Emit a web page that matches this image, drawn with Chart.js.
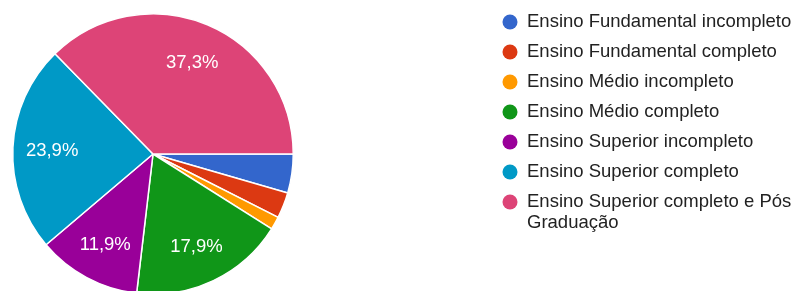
<!DOCTYPE html>
<html>
<head>
<meta charset="utf-8">
<script src="https://cdn.jsdelivr.net/npm/chart.js@4"></script>
<style>
  html, body { margin: 0; padding: 0; background: #fff; overflow: hidden; }
  #wrap { width: 802px; height: 291px; overflow: hidden; }
</style>
</head>
<body>
<div id="wrap"><canvas id="pie-chart" width="802" height="310"></canvas></div>
<script>
// respostas (67 no total)
var categorias = [
  'Ensino Fundamental incompleto',
  'Ensino Fundamental completo',
  'Ensino Médio incompleto',
  'Ensino Médio completo',
  'Ensino Superior incompleto',
  'Ensino Superior completo',
  'Ensino Superior completo e Pós Graduação'
];
var respostas = [3, 2, 1, 12, 8, 16, 25];
var cores = ['#3366cc', '#dc3912', '#ff9900', '#109618', '#990099', '#0099c6', '#dd4477'];

function pct(v, total) {
  return (v / total * 100).toFixed(1).replace('.', ',') + '%';
}

// percentagens dentro das fatias
var sliceLabels = {
  id: 'sliceLabels',
  afterDatasetsDraw: function (chart) {
    var ctx = chart.ctx;
    var data = chart.data.datasets[0].data;
    var total = data.reduce(function (a, b) { return a + b; }, 0);
    ctx.save();
    ctx.font = '18.5px "Liberation Sans", Arial, sans-serif';
    ctx.fillStyle = '#fff';
    ctx.textAlign = 'center';
    ctx.textBaseline = 'middle';
    chart.getDatasetMeta(0).data.forEach(function (arc, i) {
      if (data[i] / total < 0.05) return;
      var a = (arc.startAngle + arc.endAngle) / 2;
      var r = arc.outerRadius * 0.72;
      ctx.fillText(pct(data[i], total), arc.x + Math.cos(a) * r, arc.y + 2 + Math.sin(a) * r);
    });
    ctx.restore();
  }
};

// legenda à direita, com quebra de linha
var sideLegend = {
  id: 'sideLegend',
  afterDraw: function (chart) {
    var ctx = chart.ctx;
    var x = 510, y = 22, step = 30, maxW = 272;
    ctx.save();
    ctx.font = '18.5px "Liberation Sans", Arial, sans-serif';
    ctx.textBaseline = 'middle';
    chart.data.labels.forEach(function (label, i) {
      ctx.fillStyle = chart.data.datasets[0].backgroundColor[i];
      ctx.beginPath();
      ctx.arc(x, y, 7.5, 0, Math.PI * 2);
      ctx.fill();
      ctx.fillStyle = '#222';
      var words = label.split(' ');
      var line = '';
      words.forEach(function (w) {
        var test = line ? line + ' ' + w : w;
        if (ctx.measureText(test).width > maxW && line) {
          ctx.fillText(line, x + 17, y);
          y += 21;
          line = w;
        } else {
          line = test;
        }
      });
      ctx.fillText(line, x + 17, y);
      y += step;
    });
    ctx.restore();
  }
};

new Chart(document.getElementById('pie-chart'), {
  type: 'pie',
  data: {
    labels: categorias,
    datasets: [{
      data: respostas,
      backgroundColor: cores,
      borderColor: '#fff',
      borderWidth: 1.5
    }]
  },
  options: {
    responsive: false,
    animation: false,
    devicePixelRatio: 1,
    rotation: 90,
    layout: {
      padding: { left: 12, top: 13, right: 508, bottom: 15 }
    },
    plugins: {
      legend: { display: false },
      tooltip: { enabled: false }
    }
  },
  plugins: [sliceLabels, sideLegend]
});
</script>
</body>
</html>
